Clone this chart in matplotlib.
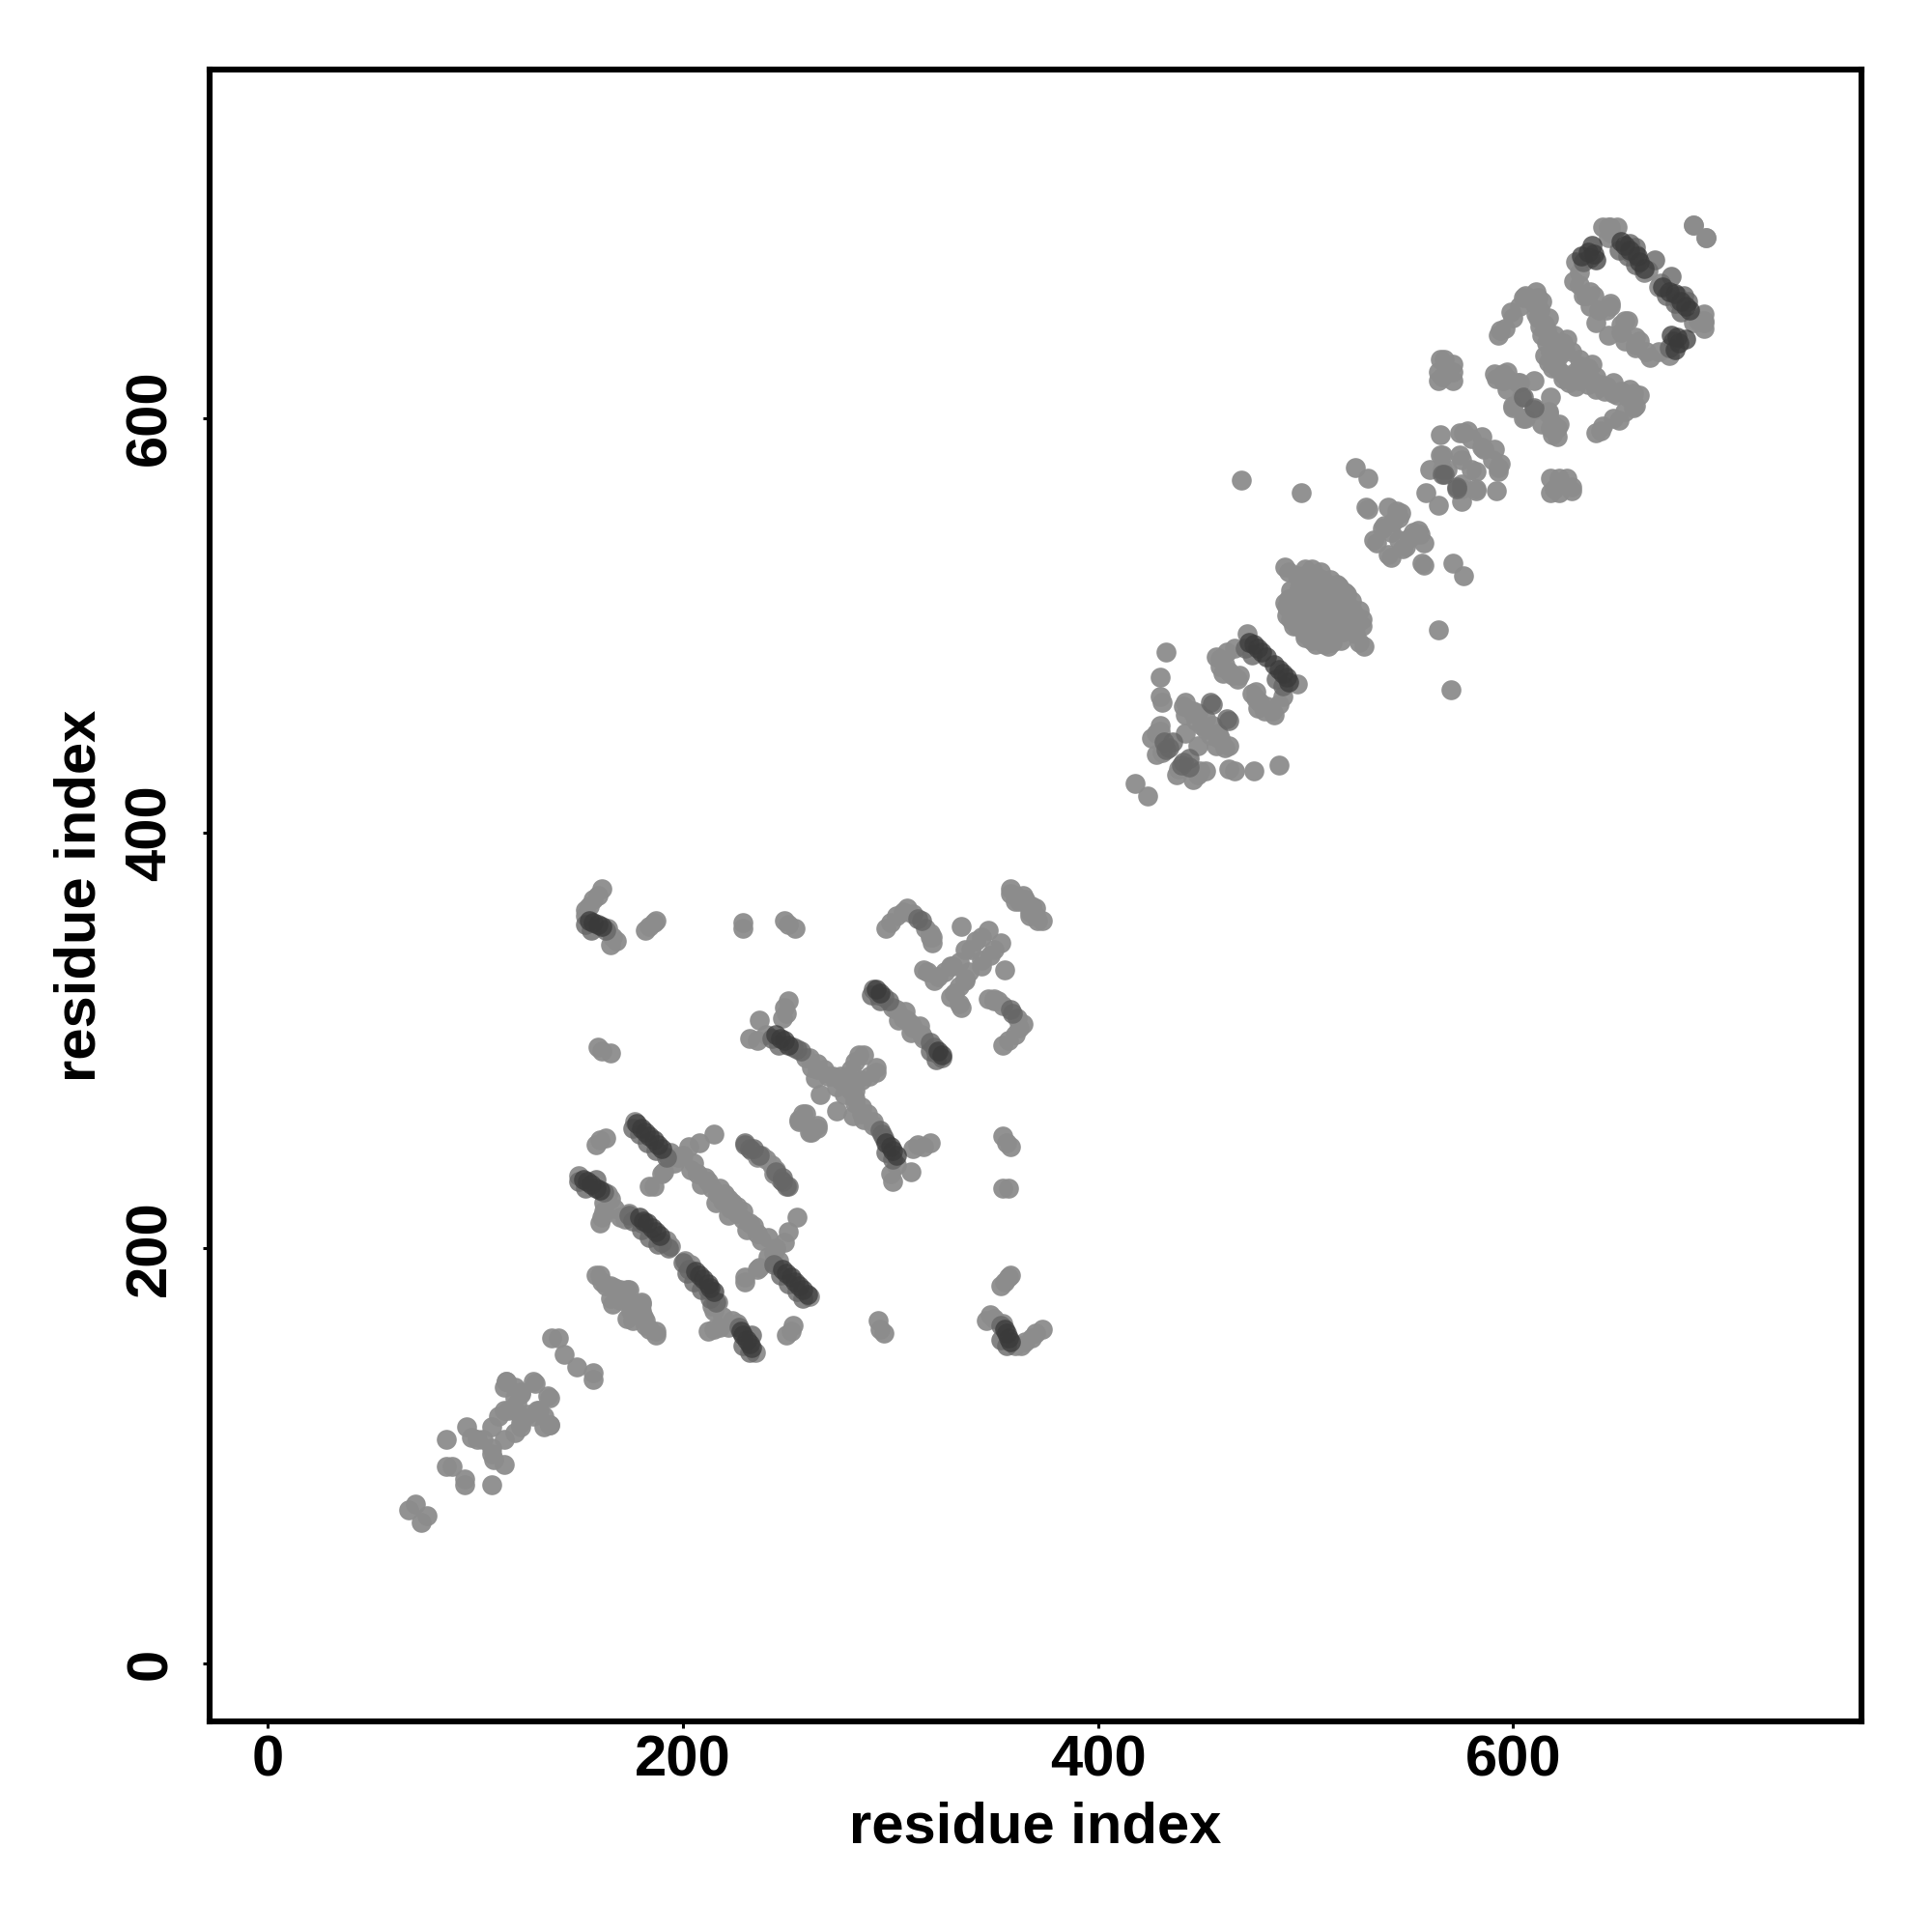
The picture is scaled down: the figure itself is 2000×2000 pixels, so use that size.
import matplotlib
matplotlib.use("Agg")
import matplotlib.pyplot as plt

# contacts are (i, j) with i < j, the map is drawn symmetric
contacts_gray = [
    (68, 74), (71, 77), (86, 95), (89, 95), (86, 108), (96, 114), (98, 109), (101, 108), (104, 108),
    (108, 114), (114, 122), (111, 119), (116, 122), (119, 122), (120, 125), (115, 136), (119, 133),
    (122, 131), (129, 135), (128, 136), (122, 130), (114, 133), (115, 136), (119, 128),
    (137, 157), (140, 157), (143, 149),
    (158, 187), (160, 187), (161, 184), (163, 182), (165, 182), (167, 181), (170, 180), (173, 180),
    (166, 173), (170, 175), (172, 176), (174, 180), (168, 178), (165, 176),
    (150, 235), (164, 226), (162, 222), (165, 224), (161, 215), (162, 218), (160, 212), (167, 219),
    (170, 215), (172, 214), (174, 217),
    (159, 297), (161, 295), (165, 294), (158, 250), (160, 252), (163, 253),
    (177, 261), (192, 204), (194, 201), (184, 230), (186, 230), (191, 237), (194, 246), (198, 244),
    (203, 249), (208, 251), (215, 255), (190, 236), (193, 244), (196, 241), (200, 245),
    (204, 238), (207, 236), (209, 231), (212, 232), (214, 229), (217, 226), (220, 226), (216, 222),
    (211, 234), (219, 223), (205, 241), (222, 224), (218, 229),
    (233, 247), (236, 244), (240, 243), (238, 245),
    (232, 301), (236, 300), (237, 310), (240, 303), (248, 311), (251, 319), (249, 316), (250, 313),
    (229, 357), (229, 354), (249, 358), (251, 356), (254, 354),
    (261, 292), (265, 289), (268, 286), (272, 283), (276, 281), (259, 292), (265, 286), (270, 283),
    (276, 283), (285, 293), (281, 286), (283, 290), (287, 293), (279, 283), (266, 274), (274, 278),
    (256, 261), (259, 265), (256, 262), (258, 265), (264, 282), (262, 287),
    (301, 316), (303, 315), (307, 314), (304, 310), (306, 311), (308, 310),
    (298, 354), (300, 357), (303, 360), (317, 354), (320, 350), (319, 352), (306, 362), (308, 364),
    (311, 361), (347, 320), (350, 319),
    (161, 373), (159, 370), (157, 368), (155, 365), (153, 363), (153, 360), (164, 354), (166, 350),
    (168, 348), (165, 346), (182, 353), (184, 355), (186, 357), (187, 358),
    (316, 334), (318, 333), (321, 329), (323, 331), (326, 333), (329, 336), (330, 336), (333, 338),
    (336, 344), (339, 344), (341, 348), (344, 350), (347, 353), (334, 355),
    (358, 373), (360, 367), (360, 370), (364, 370), (361, 369), (362, 367), (365, 368), (358, 371),
    (418, 424), (433, 487), (430, 475), (430, 466), (431, 463), (442, 463), (442, 457), (446, 458),
    (448, 458), (442, 448), (447, 454), (430, 452), (426, 446), (428, 448), (428, 438), (431, 439),
    (446, 459), (450, 452), (452, 455), (430, 449), (441, 461),
    (457, 485), (459, 484), (462, 487), (466, 489), (460, 477), (463, 478), (465, 476), (468, 476),
    (467, 474), (472, 496), (461, 481), (459, 480),
    (491, 505), (491, 509), (492, 513), (493, 517), (494, 500), (495, 504), (496, 509), (497, 513),
    (497, 518), (498, 522), (501, 525), (503, 524), (497, 500), (499, 503), (500, 508), (501, 512),
    (502, 516), (503, 520), (505, 524), (508, 522), (512, 522), (515, 520), (504, 507), (505, 511),
    (506, 515), (507, 519), (509, 512), (510, 516), (511, 520), (513, 517), (514, 519), (516, 519),
    (499, 505), (496, 500), (494, 507), (504, 518), (506, 522), (509, 518), (511, 515), (490, 511),
    (493, 503), (503, 527), (507, 526), (500, 527), (492, 526), (490, 528), (496, 524),
    (498, 564), (469, 570), (524, 576), (530, 571), (529, 557), (530, 556), (540, 557), (544, 555),
    (542, 550), (533, 541), (537, 547), (546, 554), (534, 540), (541, 545), (538, 548), (545, 552),
    (565, 592), (574, 593), (576, 593), (580, 590), (585, 591), (578, 594), (585, 586), (558, 564),
    (560, 575), (566, 582), (568, 575), (574, 582), (565, 582), (566, 575), (575, 580),
    (564, 618), (564, 622), (567, 628), (571, 626), (571, 618), (571, 622), (565, 628), (566, 620),
    (591, 621), (595, 621), (597, 619), (602, 617), (600, 606), (605, 600), (604, 610), (603, 617),
    (597, 622), (592, 619), (595, 618), (610, 618), (614, 597),
    (611, 661), (612, 658), (610, 655), (611, 650), (612, 648), (613, 644), (614, 640), (616, 636),
    (615, 630), (620, 634), (624, 636), (625, 633), (622, 630), (617, 627), (619, 624), (621, 624),
    (611, 655), (613, 652), (615, 645), (616, 642), (618, 638), (620, 640), (623, 632), (626, 638),
    (628, 632), (618, 632), (614, 656), (617, 648),
    (594, 642), (596, 643), (599, 651), (605, 658), (606, 659), (603, 654), (600, 648), (593, 640),
    (629, 666), (634, 659), (639, 659), (632, 670), (630, 675), (647, 655), (640, 646), (647, 654),
    (641, 652), (645, 652), (635, 659), (637, 654), (632, 664), (637, 661), (643, 692), (647, 692),
    (650, 692), (646, 692), (663, 670), (665, 671), (687, 693), (693, 687), (646, 687), (647, 689),
]

contacts_mid = [
    (455, 462), (463, 454), (432, 444), (434, 441), (433, 440), (436, 444),
    (158, 233), (162, 227), (190, 203), (193, 200), (230, 250), (245, 237), (248, 234), (251, 230),
    (248, 232), (253, 297), (255, 296), (257, 295), (297, 321), (299, 319), (313, 359), (315, 358),
    (163, 353), (325, 292), (322, 294), (192, 244), (567, 573), (573, 566), (605, 610),
    (659, 679), (668, 676), (656, 680), (656, 684), (659, 682), (180, 212), (174, 216),
    (176, 258), (179, 255), (183, 251), (187, 247), (150, 232), (153, 229), (176, 213), (180, 209),
    (184, 205), (188, 202), (153, 356), (156, 353), (243, 301), (246, 298), (291, 322), (295, 319),
    (471, 489), (474, 486), (651, 681), (655, 678), (659, 674), (634, 675), (637, 677),
]

contacts_dark = [
    (178, 260), (180, 258), (182, 256), (184, 254), (186, 252), (188, 250), (190, 248),
    (152, 233), (154, 232), (156, 231), (158, 229), (160, 228),
    (179, 215), (181, 213), (183, 212), (185, 210), (187, 208), (189, 206),
    (155, 358), (157, 357), (159, 356), (161, 355),
    (293, 325), (295, 323), (245, 303), (247, 301), (249, 300), (251, 298),
    (473, 492), (475, 491), (477, 489), (479, 487), (481, 485),
    (652, 685), (654, 683), (656, 681), (661, 675), (663, 672), (660, 678),
    (633, 678), (636, 680), (638, 683), (640, 676), (639, 679),
]

tick_values = [0, 200, 400, 600]

plt.rcParams['font.family'] = ['Liberation Sans', 'DejaVu Sans']
plt.rcParams['font.weight'] = 'bold'

fig = plt.figure(figsize=(20, 20), dpi=100)
ax = fig.add_axes([217 / 2000, 1 - 1782 / 2000, 1710 / 2000, 1710 / 2000])


def draw(pairs, color, alpha):
    xs = [p[0] for p in pairs] + [p[1] for p in pairs]
    ys = [p[1] for p in pairs] + [p[0] for p in pairs]
    ax.scatter(xs, ys, s=220, c=color, alpha=alpha, linewidths=0, clip_on=False)


draw(contacts_gray, '#8c8c8c', 0.95)
draw(contacts_mid, '#666666', 0.8)
draw(contacts_dark, '#3a3a3a', 0.75)

ax.set_xlim(-27.9, 767.8)
ax.set_ylim(-27.9, 767.8)
ax.set_xticks(tick_values)
ax.set_yticks(tick_values)
ax.tick_params(length=5, width=2.2, labelsize=43, pad=5)
ax.tick_params(axis='y', pad=19)
for lab in ax.get_yticklabels():
    lab.set_rotation(90)
    lab.set_va('center')
for key, spine in ax.spines.items():
    spine.set_linewidth(4.4)
ax.set_xlabel('residue index', fontsize=43, fontweight='bold', labelpad=10)
ax.set_ylabel('residue index', fontsize=43, fontweight='bold', labelpad=13)

fig.savefig('out.png', dpi=100)
